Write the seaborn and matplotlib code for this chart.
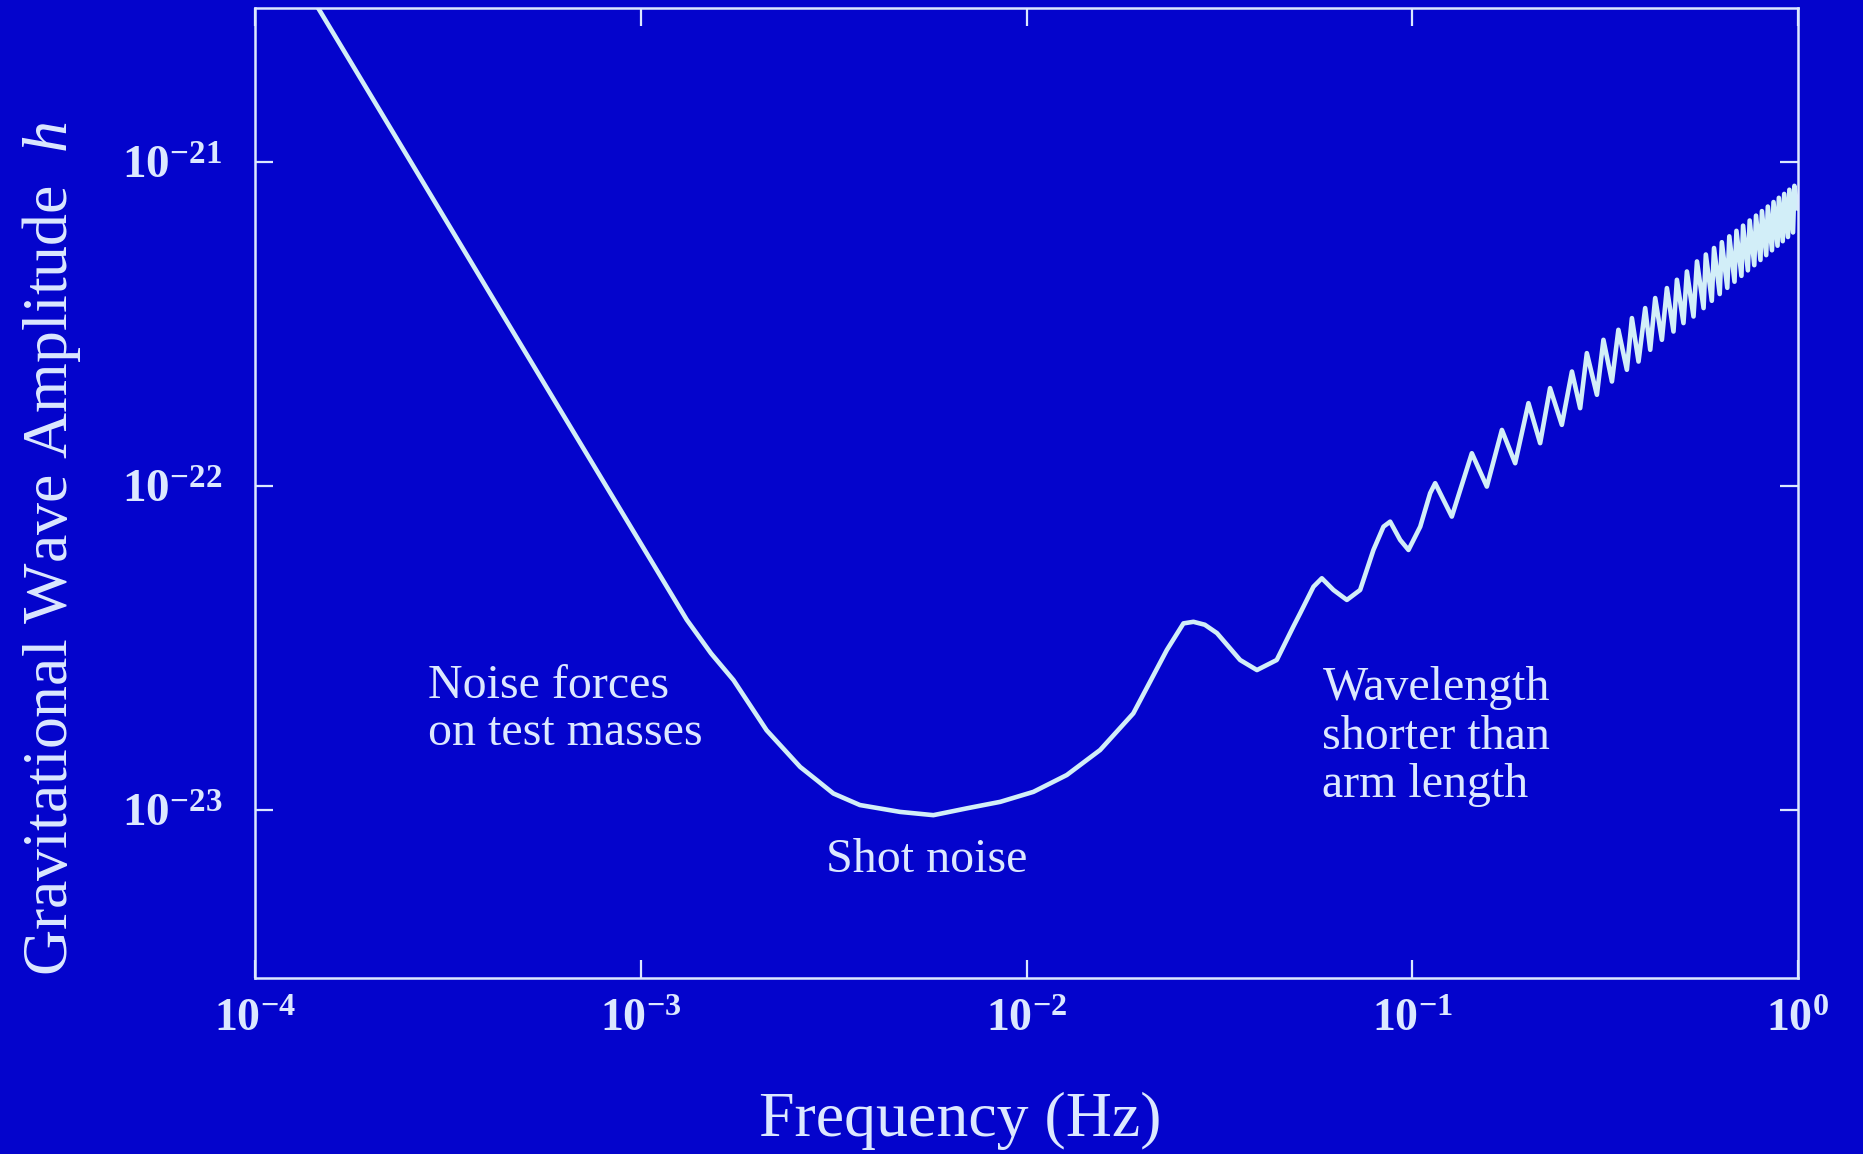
import numpy as np
import pandas as pd
import matplotlib
matplotlib.use("Agg")
import matplotlib.pyplot as plt
import seaborn as sns

# ---------------- data ----------------
freq_hz = [
    1.416e-4, 4.365e-4, 1.315e-3, 1.520e-3, 1.738e-3, 2.118e-3, 2.588e-3, 2.858e-3,
    3.155e-3, 3.698e-3, 4.699e-3, 5.734e-3, 7.000e-3, 8.551e-3, 1.042e-2,
    1.272e-2, 1.552e-2, 1.892e-2, 2.312e-2, 2.553e-2, 2.710e-2, 2.900e-2, 3.119e-2,
    3.581e-2, 3.960e-2, 4.457e-2, 4.920e-2, 5.126e-2, 5.550e-2, 5.834e-2,
    6.253e-2, 6.775e-2, 7.334e-2, 7.940e-2, 8.430e-2, 8.774e-2, 9.314e-2,
    9.788e-2, 0.1050, 0.1114, 0.1148, 0.1268, 0.1429, 0.1563, 0.1710,
    0.1851, 0.2004, 0.2149, 0.2280, 0.2446, 0.2598, 0.2729, 0.2840,
    0.3016, 0.3136, 0.3299, 0.3429, 0.3607, 0.3717, 0.3867, 0.4024,
    0.4147, 0.4272, 0.4446, 0.4581, 0.4765, 0.4863, 0.5058, 0.5162,
    0.5370, 0.5482, 0.5703, 0.578, 0.599, 0.607, 0.628, 0.636, 0.657,
    0.665, 0.686, 0.694, 0.715, 0.722, 0.743, 0.751, 0.772, 0.780, 0.801,
    0.808, 0.829, 0.837, 0.858, 0.866, 0.887, 0.894, 0.915, 0.923, 0.944,
    0.952, 0.973, 0.981, 1.000,
]
strain_h = [
    3.162e-21, 3.412e-22, 3.873e-23, 3.050e-23, 2.523e-23, 1.766e-23, 1.361e-23, 1.239e-23,
    1.127e-23, 1.038e-23, 9.886e-24, 9.660e-24, 1.014e-23, 1.062e-23, 1.140e-23,
    1.285e-23, 1.535e-23, 1.991e-23, 3.126e-23, 3.776e-23, 3.819e-23, 3.740e-23, 3.524e-23,
    2.911e-23, 2.710e-23, 2.911e-23, 3.690e-23, 4.058e-23, 4.902e-23, 5.204e-23,
    4.789e-23, 4.461e-23, 4.789e-23, 6.365e-23, 7.511e-23, 7.784e-23, 6.834e-23,
    6.365e-23, 7.511e-23, 9.528e-23, 1.023e-22, 8.067e-23, 1.266e-22, 9.986e-23,
    1.494e-22, 1.179e-22, 1.807e-22, 1.360e-22, 2.011e-22, 1.549e-22, 2.263e-22,
    1.744e-22, 2.579e-22, 1.918e-22, 2.835e-22, 2.108e-22, 3.044e-22, 2.291e-22,
    3.308e-22, 2.429e-22, 3.552e-22, 2.641e-22, 3.815e-22, 2.835e-22, 4.095e-22,
    3.007e-22, 4.344e-22, 3.193e-22, 4.608e-22, 3.346e-22, 4.949e-22, 3.552e-22,
    5.200e-22, 3.741e-22, 5.445e-22, 3.926e-22, 5.675e-22, 4.102e-22, 5.916e-22,
    4.285e-22, 6.152e-22, 4.467e-22, 6.383e-22, 4.645e-22, 6.622e-22, 4.819e-22,
    6.855e-22, 5.000e-22, 7.079e-22, 5.176e-22, 7.311e-22, 5.358e-22, 7.551e-22,
    5.534e-22, 7.780e-22, 5.715e-22, 7.998e-22, 5.888e-22, 8.241e-22, 6.081e-22,
    8.472e-22, 7.200e-22,
]

x_ticks = [1e-4, 1e-3, 1e-2, 1e-1, 1e0]
x_tick_labels = [r"$\mathbf{10^{-4}}$", r"$\mathbf{10^{-3}}$", r"$\mathbf{10^{-2}}$",
                 r"$\mathbf{10^{-1}}$", r"$\mathbf{10^{0}}$"]
y_ticks = [1e-23, 1e-22, 1e-21]
y_tick_labels = [r"$\mathbf{10^{-23}}$", r"$\mathbf{10^{-22}}$", r"$\mathbf{10^{-21}}$"]

x_label = "Frequency (Hz)"
y_label = r"Gravitational Wave Amplitude  $h$"
note_low = "Noise forces\non test masses"
note_mid = "Shot noise"
note_high = "Wavelength\nshorter than\narm length"

# ---------------- style ----------------
BG = "#0404CC"
FG = "#DCE8FF"
LINE = "#D2EEF8"

sns.set_theme(style="ticks")
plt.rcParams["font.family"] = ["Liberation Serif", "DejaVu Serif"]
plt.rcParams["mathtext.fontset"] = "custom"
plt.rcParams["mathtext.rm"] = "Liberation Serif"
plt.rcParams["mathtext.it"] = "Liberation Serif:italic"
plt.rcParams["mathtext.bf"] = "Liberation Serif:bold"

fig = plt.figure(figsize=(18.63, 11.54), dpi=100, facecolor=BG)
ax = fig.add_axes([0.1371, 0.1527, 0.8278, 0.8404])
ax.set_facecolor(BG)

df = pd.DataFrame({"f": freq_hz, "h": strain_h})
sns.lineplot(data=df, x="f", y="h", ax=ax, color=LINE, linewidth=3.3,
             estimator=None, sort=False, legend=False)
ax.lines[0].set_solid_joinstyle("round")

ax.set_xscale("log")
ax.set_yscale("log")
ax.set_xlim(1e-4, 1.0)
ax.set_ylim(3.04e-24, 3.0e-21)

ax.set_xticks(x_ticks)
ax.set_xticklabels(x_tick_labels)
ax.set_yticks(y_ticks)
ax.set_yticklabels(y_tick_labels)
ax.minorticks_off()

ax.tick_params(axis="both", which="major", direction="in", length=13, width=1.6,
               top=True, right=True, color=FG, labelcolor=FG)
ax.tick_params(axis="x", labelsize=33, pad=15)
ax.tick_params(axis="y", labelsize=34, pad=24)

for s in ax.spines.values():
    s.set_color(FG)
    s.set_linewidth(1.8)
    s.set_visible(True)

ax.set_xlabel(x_label, fontsize=46, color=FG)
ax.xaxis.set_label_coords(0.457, -0.118)
ax.set_ylabel(y_label, fontsize=46, color=FG)
ax.yaxis.set_label_coords(-0.112, 0.442)

ax.text(0.1117, 0.324, note_low, transform=ax.transAxes, ha="left", va="top",
        fontsize=34.5, color=FG, linespacing=1.1)
ax.text(0.4353, 0.1215, note_mid, transform=ax.transAxes, ha="center", va="center",
        fontsize=34.5, color=FG)
ax.text(0.6919, 0.321, note_high, transform=ax.transAxes, ha="left", va="top",
        fontsize=34.5, color=FG, linespacing=1.13)

fig.savefig("out.png", dpi=100, facecolor=BG)
